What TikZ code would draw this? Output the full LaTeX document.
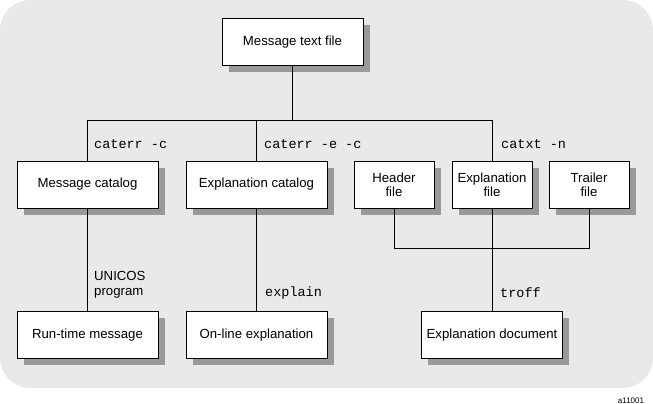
\documentclass[tikz,border=0pt]{standalone}
\usepackage{fontspec}
\setmainfont{Liberation Sans}
\setmonofont{Liberation Mono}
\usetikzlibrary{shadows}
\definecolor{bggray}{HTML}{E9E9E9}
\definecolor{shgray}{HTML}{999999}
\tikzset{
  box/.style={draw=black, line width=1pt, fill=white, minimum height=47pt,
    inner sep=0pt, align=center, font=\fontsize{13.2}{14}\selectfont,
    drop shadow={shadow xshift=6.5pt, shadow yshift=-6.5pt, fill=shgray, opacity=1}},
  wide/.style={box, minimum width=141pt},
  narrow/.style={box, minimum width=80pt},
  conn/.style={draw=black, line width=1pt},
  cmd/.style={anchor=west, inner sep=0pt, font=\ttfamily\fontsize{13.5}{15}\selectfont},
  lbl/.style={anchor=west, inner sep=0pt, align=left, font=\fontsize{13.2}{15}\selectfont},
}
\begin{document}
\begin{tikzpicture}[x=1pt, y=-1pt]
\useasboundingbox (0,0) rectangle (653,404);
\fill[bggray, rounded corners=30pt] (0,0) rectangle (653,388);

\node[wide] (top) at (292.5,42.5) {Message text file};
\node[wide] (mcat) at (87.5,184.5) {Message catalog};
\node[wide] (ecat) at (256.5,184.5) {Explanation catalog};
\node[narrow] (header) at (394,184.5) {Header\\file};
\node[narrow] (efile) at (492,184.5) {Explanation\\file};
\node[narrow] (trailer) at (589,184.5) {Trailer\\file};
\node[wide] (run) at (87.5,335) {Run-time message};
\node[wide] (online) at (256.5,335) {On-line explanation};
\node[wide] (edoc) at (492,335) {Explanation document};

\coordinate (busL) at (87.5,120);
\coordinate (busR) at (492,120);
\coordinate (busB) at (394,248);

\draw[conn] (top.south) -- (top.south |- busL);
\draw[conn] (mcat.north) |- (busR);
\draw[conn] (efile.north) -- (efile.north |- busR);
\draw[conn] (ecat.north) -- (ecat.north |- busL);
\draw[conn] (header.south) -- (busB) -| (trailer.south);
\draw[conn] (efile.south) -- (edoc.north);
\draw[conn] (mcat.south) -- (run.north);
\draw[conn] (ecat.south) -- (online.north);

\node[cmd] (l1) at (94,144) {caterr -c};
\node[cmd] (l2) at (264,144) {caterr -e -c};
\node[cmd] (l3) at (501,144) {catxt -n};
\node[lbl] (l4) at (94,284.5) {UNICOS\\program};
\node[cmd] (l5) at (265,293) {explain};
\node[cmd] (l6) at (500,293) {troff};
\node[inner sep=0pt, font=\fontsize{8}{9}\selectfont] (tag) at (631,401) {a11001};
\end{tikzpicture}
\end{document}
